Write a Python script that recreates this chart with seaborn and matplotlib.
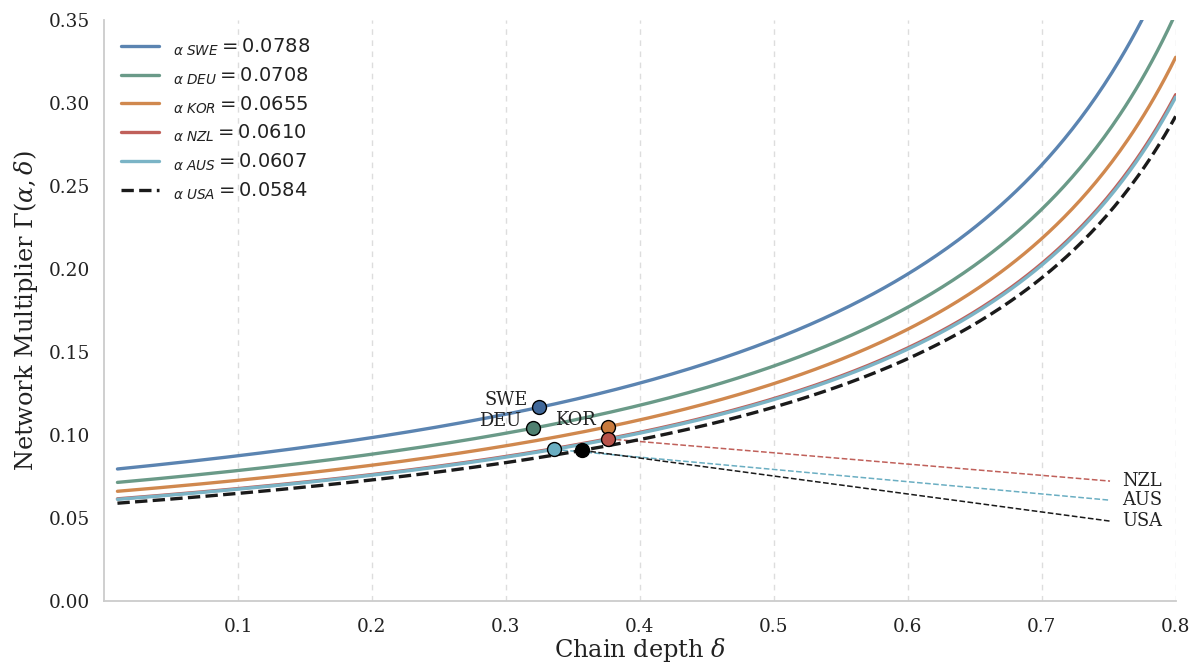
import numpy as np
import pandas as pd
import matplotlib
matplotlib.use("Agg")
import matplotlib.pyplot as plt
import seaborn as sns

# --- data ---
countries = ["SWE", "DEU", "KOR", "NZL", "AUS", "USA"]
alphas = [0.0788, 0.0708, 0.0655, 0.0610, 0.0607, 0.0584]
line_colors = ["#5b84b1", "#6a9a88", "#d0884e", "#c0605a", "#7bb4c6", "#1a1a1a"]
marker_colors = ["#40689a", "#4f8070", "#c97a3c", "#b8524a", "#6aaec2", "#000000"]
# observed chain depth for each country (marker positions)
deltas = [0.325, 0.320, 0.376, 0.376, 0.336, 0.357]
# trend lines (start at marker, end point)
trend_countries = ["NZL", "AUS", "USA"]
trend_end_delta = [0.751, 0.751, 0.751]
trend_end_value = [0.0723, 0.0608, 0.0482]
trend_colors = ["#c0605a", "#6aaec2", "#1a1a1a"]

delta_grid = np.linspace(0.01, 0.80, 400)

sns.set_theme(style="white")
plt.rcParams["font.family"] = ["DejaVu Serif"]
plt.rcParams["mathtext.fontset"] = "dejavuserif"

fig, ax = plt.subplots(figsize=(11.96, 6.65), dpi=100)
fig.subplots_adjust(left=0.087, right=0.983, top=0.97, bottom=0.096)

rows = []
for c, a in zip(countries, alphas):
    for d in delta_grid:
        rows.append({"country": c, "delta": d, "gamma": a / (1 - d)})
df = pd.DataFrame(rows)

for c, a, col in zip(countries, alphas, line_colors):
    sub = df[df.country == c]
    ls = "--" if c == "USA" else "-"
    sns.lineplot(data=sub, x="delta", y="gamma", ax=ax, color=col, lw=2.4,
                 linestyle=ls, label=rf"$_{{\alpha}}\,_{{{c}}} = {a:.4f}$", zorder=3)

# trend lines
for c, ed, ev, col in zip(trend_countries, trend_end_delta, trend_end_value, trend_colors):
    i = countries.index(c)
    d0 = deltas[i]
    g0 = alphas[i] / (1 - d0)
    ax.plot([d0, ed], [g0, ev], ls="--", lw=1.1, color=col, zorder=2)
    ax.text(ed + 0.009, ev, c, ha="left", va="center", fontsize=12.8, color="#222222")

# markers
mk = pd.DataFrame({"country": countries, "delta": deltas,
                   "gamma": [a / (1 - d) for a, d in zip(alphas, deltas)]})
for i, r in mk.iterrows():
    ax.scatter(r.delta, r.gamma, s=100, color=marker_colors[i], edgecolor="black",
               linewidth=1.0, zorder=5)

for c in ["SWE", "DEU", "KOR"]:
    i = countries.index(c)
    ax.annotate(c, (mk.delta[i], mk.gamma[i]), xytext=(-8.5, 5), textcoords="offset points",
                ha="right", va="center", fontsize=12.8, color="#222222")

ax.set_xlim(0.0, 0.8)
ax.set_ylim(0.0, 0.35)
ax.set_xticks([0.1, 0.2, 0.3, 0.4, 0.5, 0.6, 0.7, 0.8])
ax.set_yticks(np.arange(0, 0.351, 0.05))
ax.set_xticklabels(["0.1", "0.2", "0.3", "0.4", "0.5", "0.6", "0.7", "0.8"])
ax.set_yticklabels([f"{v:.2f}" for v in np.arange(0, 0.351, 0.05)])
ax.tick_params(axis="x", pad=12, labelsize=13.3, colors="#222222", length=0)
ax.tick_params(axis="y", pad=10, labelsize=13.3, colors="#222222", length=0)
ax.xaxis.grid(True, ls=(0, (4, 4)), color="#dddddd", lw=1.0)
ax.yaxis.grid(False)
for s in ["top", "right"]:
    ax.spines[s].set_visible(False)
for s in ["left", "bottom"]:
    ax.spines[s].set_color("#cccccc")
    ax.spines[s].set_linewidth(1.3)

ax.set_xlabel(r"Chain depth $\delta$", fontsize=17.3, color="#222222", labelpad=0)
ax.set_ylabel(r"Network Multiplier $\Gamma(\alpha, \delta)$", fontsize=17.3, color="#222222", labelpad=6)

plt.rcParams["mathtext.fontset"] = "dejavusans"
leg = ax.legend(loc="upper left", frameon=False, handlelength=2.0,
                prop={"family": "DejaVu Sans", "size": 14}, labelspacing=0.39,
                borderaxespad=0.45, handletextpad=0.7)
for t in leg.get_texts():
    t.set_color("#222222")

fig.savefig("out.png", dpi=100)
